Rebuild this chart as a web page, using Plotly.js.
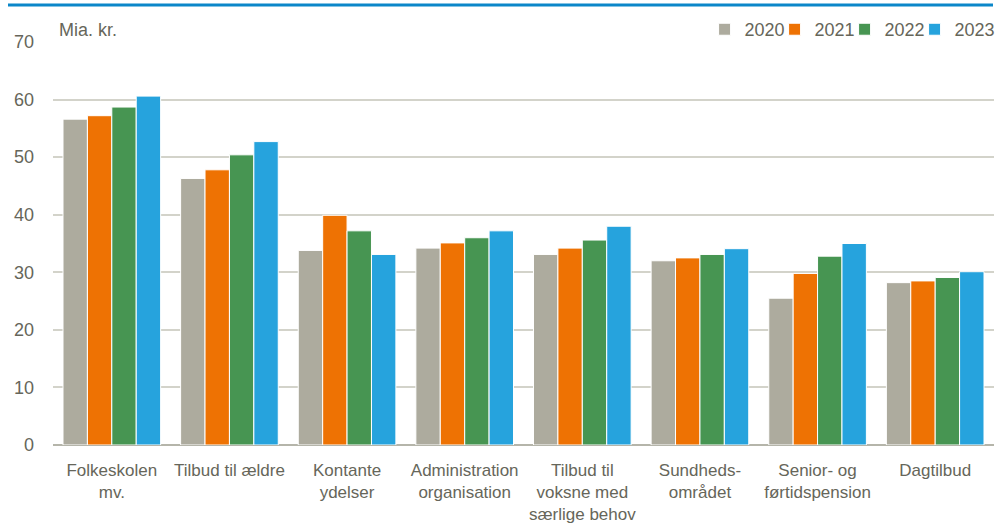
<!DOCTYPE html>
<html>
<head>
<meta charset="utf-8">
<script src="https://cdn.plot.ly/plotly-3.0.1.min.js"></script>
<style>html,body{margin:0;padding:0;background:#fff;}#chart{width:997px;height:531px;}</style>
</head>
<body>
<div id="chart"></div>
<script>
const categories = ["Folkeskolen<br>mv.", "Tilbud til ældre", "Kontante<br>ydelser", "Administration<br>organisation", "Tilbud til<br>voksne med<br>særlige behov", "Sundheds-<br>området", "Senior- og<br>førtidspension", "Dagtilbud"];
const years = ["2020", "2021", "2022", "2023"];
const v2020 = [56.6, 46.3, 33.8, 34.2, 33.1, 32.0, 25.5, 28.2];
const v2021 = [57.2, 47.8, 39.9, 35.1, 34.2, 32.5, 29.8, 28.5];
const v2022 = [58.7, 50.4, 37.2, 36.0, 35.6, 33.1, 32.8, 29.1];
const v2023 = [60.6, 52.7, 33.1, 37.2, 38.0, 34.1, 35.0, 30.1];
const colors = ["#ADAB9E", "#EE7203", "#479552", "#26A3DD"];
const yTicks = [0, 10, 20, 30, 40, 50, 60, 70];

const series = [v2020, v2021, v2022, v2023];
const textColor = "#66665a";
const traces = series.map((vals, i) => ({
  type: "bar",
  name: years[i],
  x: categories,
  y: vals,
  marker: {color: colors[i], line: {color: "#ffffff", width: 1}},
  hoverinfo: "x+y+name"
}));

const layout = {
  width: 997, height: 531,
  margin: {l: 53, r: 3, t: 42, b: 86, autoexpand: false},
  paper_bgcolor: "#fff", plot_bgcolor: "#fff",
  font: {family: "Liberation Sans, Arial, sans-serif", size: 17, color: textColor},
  barmode: "group",
  bargap: 0.17,
  bargroupgap: 0,
  showlegend: true,
  legend: {orientation: "h", x: 0.990, xanchor: "right", y: 0.985, yanchor: "bottom",
           font: {size: 18, color: textColor}, itemwidth: 30, entrywidth: 25, traceorder: "normal", bgcolor: "rgba(0,0,0,0)"},
  xaxis: {type: "category", showgrid: false, showline: false, ticks: "",
          tickfont: {size: 17, color: textColor}, ticklabelstandoff: 13, automargin: false},
  yaxis: {range: [0, 70], tickvals: yTicks, ticktext: yTicks.map(String), showgrid: true,
          gridcolor: "#D3D3CA", gridwidth: 2, zeroline: true, zerolinecolor: "#B5B5AA", zerolinewidth: 1.5,
          showline: false, ticks: "", tickfont: {size: 18, color: textColor}, ticklabelstandoff: 18, automargin: false},
  annotations: [{text: "Mia. kr.", xref: "paper", yref: "paper", x: 0.004, y: 1.0, xanchor: "left", yanchor: "bottom",
                 showarrow: false, font: {size: 18, color: textColor}}],
  shapes: [{type: "line", xref: "paper", yref: "paper", x0: -45/941, x1: 940/941, y0: 1 + 37/403, y1: 1 + 37/403,
            line: {color: "#0B87C9", width: 3}}]
};

Plotly.newPlot("chart", traces, layout, {displayModeBar: false, staticPlot: true}).then(function () {
  document.querySelectorAll("#chart .legend [clip-path], #chart .legend[clip-path]").forEach(function (el) {
    el.removeAttribute("clip-path");
  });
});
</script>
</body>
</html>
